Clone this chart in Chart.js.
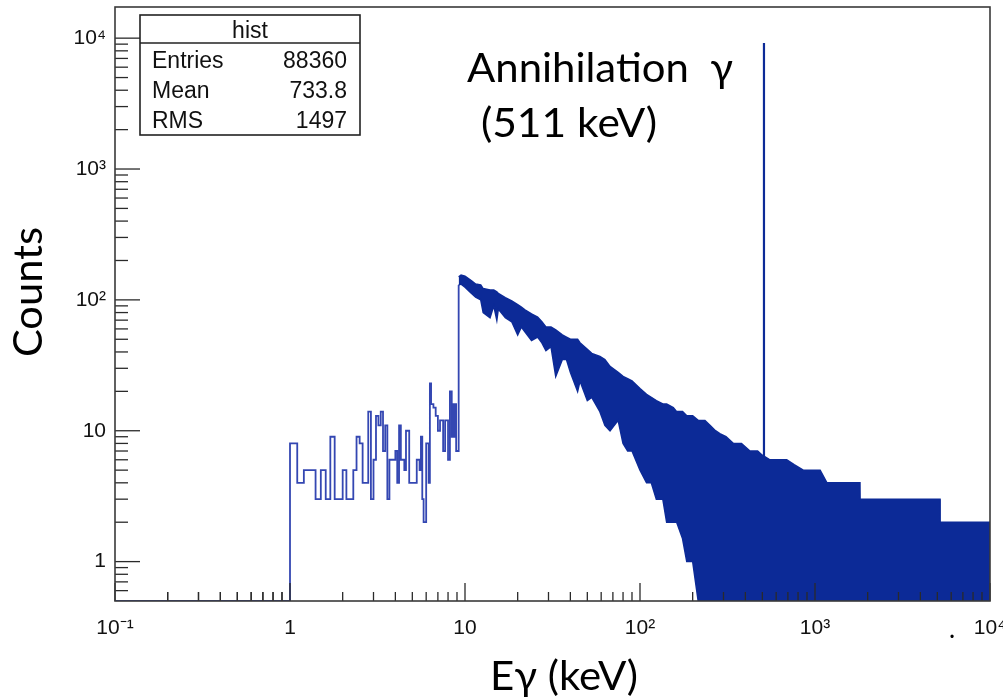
<!DOCTYPE html>
<html><head><meta charset="utf-8">
<script src="https://cdn.jsdelivr.net/npm/chart.js@4.4.0/dist/chart.umd.min.js"></script>
<style>html,body{margin:0;padding:0;background:#fff;overflow:hidden}canvas{display:block}</style>
</head><body>
<canvas id="c" width="1003" height="699"></canvas>
<script>
// ---- data ----
const lowEdges = [1.0,1.1,1.2,1.3,1.4,1.5,1.6,1.7,1.8,1.9,2.0,2.1,2.2,2.3,2.4,2.5,2.6,2.7,2.8,2.9,
  3.0,3.1,3.2,3.3,3.4,3.5,3.6,3.7,3.8,3.9,4.0,4.1,4.2,4.3,4.4,4.5,4.6,4.7,4.8,4.9,
  5.0,5.1,5.2,5.3,5.4,5.5,5.6,5.7,5.8,5.9,6.0,6.1,6.2,6.3,6.4,6.5,6.6,6.7,6.8,6.9,
  7.0,7.1,7.2,7.3,7.4,7.5,7.6,7.7,7.8,7.9,8.0,8.1,8.2,8.3,8.4,8.5,8.6,8.7,8.8,8.9,
  9.0,9.1,9.2];
const lowCounts = [8,4,5,5,3,5,3,9,3,3,5,3,3,5,9,8,4,4,14,3,
  6,13,11,14,7,11,3,6,6,6,7,4,11,6,6,5,10,10,4,4,
  4,4,4,6,6,5,9,3,2,2,8,8,4,23,16,16,15,15,13,13,
  10,10,12,12,12,7,7,12,12,12,6,6,20,20,9,16,9,16,16,7,
  7,7];
const bandEnergy = [9.2,9.5,10.0,10.9,11.5,12.3,12.7,13.9,14.6,15.2,15.5,17.0,18.5,20.0,21.0,22.0,24.0,26.0,27.5,29.0,
  31.0,33.0,36.0,38.0,40.0,44.0,45.4,50,53,59,63,67.4,75,80,85,90,100,109,116,124,
  135,142,155,162,175,185,200,215,235,251,270,286,310,341,380,425,470,500,553,620,
  689,760,857,1000,1070,1170,1585,1807,1810,5180,5190,10000];
const bandUpper = [150,155,152,140,132,130,122,119,119,115,112,104,98,92,88,84,78,74,68,62,
  62,59,54,52,50,50,47,42,39,37,35,31,28,26,25,24,21,19,18,17,
  16,16,15,14,14,13,13,12,12,11,10,9.5,9,8,8,7,7,6.5,6,6,
  6,5.5,5,5,5,4,4,4,3,3,2,2];
const bandLower = [130,132,125,112,105,100,80,73,90,70,85,73,68,54,62,57,49,52,47,41,
  44,26,35,35,28,20,24,17,18,14,11,10,12,8,7,7,5,4,4,3,
  3,2,2,2,1.5,1,1,0.5,0.5,0.5,0.5,0.5,0.5,0.5,0.5,0.5,0.5,0.5,0.5,0.5,
  0.5,0.5,0.5,0.5,0.5,0.5,0.5,0.5,0.5,0.5,0.5,0.5];
const peakEnergy = 511;
const peakCounts = 9200;
const xMajorTicks = [0.1,1,10,100,1000,10000];
const xTickLabels = ['10\u207B\u00B9','1','10','10\u00B2','10\u00B3','10\u2074'];
const yMajorTicks = [1,10,100,1000,10000];
const yTickLabels = ['1','10','10\u00B2','10\u00B3','10\u2074'];
const statsTitle = 'hist';
const statsNames = ['Entries','Mean','RMS'];
const statsValues = ['88360','733.8','1497'];
const xTitle = 'E\u03B3 (keV)';
const yTitle = 'Counts';
const annotLines = ['Annihilation  \u03B3',' (511 keV)'];

const X_MIN = 0.1, X_MAX = 10000, Y_MIN = 0.5, Y_MAX = 17300;
const BLUE = '#0c2a97', LINE = '#3447b2';

// ---- build datasets ----
const lowData = [{x: X_MIN, y: Y_MIN}, {x: lowEdges[0], y: Y_MIN}];
lowCounts.forEach((c, i) => lowData.push({x: lowEdges[i], y: c}));
lowData.push({x: lowEdges[lowEdges.length - 1], y: bandLower[0]});
const upperData = bandEnergy.map((e, i) => ({x: e, y: bandUpper[i]}));
const lowerData = bandEnergy.map((e, i) => ({x: e, y: bandLower[i]}));
const peakData = [{x: peakEnergy, y: Y_MIN}, {x: peakEnergy, y: peakCounts}];

function minorOf(majors, lo, hi) {
  const out = [];
  for (const m of [0.1, ...majors]) for (let k = 2; k <= 9; k++) {
    const v = k * m; if (v > lo && v < hi) out.push(v);
  }
  return out;
}

const decor = {
  id: 'decor',
  beforeDatasetsDraw(chart) {
    const {ctx, scales: {x, y}} = chart;
    ctx.save();
    ctx.beginPath(); ctx.rect(x.left, y.top, x.right - x.left, y.bottom - y.top); ctx.clip();
  },
  afterDatasetsDraw(chart) {
    const {ctx, scales: {x, y}} = chart;
    ctx.restore();
    const a = {left: x.left, right: x.right, top: y.top, bottom: y.bottom};
    ctx.save();
    ctx.strokeStyle = '#2a2a2a'; ctx.lineWidth = 1.3;
    const ln = (x1, y1, x2, y2) => { ctx.beginPath(); ctx.moveTo(x1, y1); ctx.lineTo(x2, y2); ctx.stroke(); };
    for (const v of xMajorTicks) { const p = x.getPixelForValue(v); ln(p, a.bottom, p, a.bottom - 18); }
    for (const v of minorOf(xMajorTicks, X_MIN, X_MAX)) { const p = x.getPixelForValue(v); ln(p, a.bottom, p, a.bottom - 9); }
    for (const v of yMajorTicks) { const p = y.getPixelForValue(v); ln(a.left, p, a.left + 25, p); }
    for (const v of minorOf(yMajorTicks, Y_MIN, Y_MAX)) { const p = y.getPixelForValue(v); ln(a.left, p, a.left + 13, p); }
    ctx.lineWidth = 1.6; ctx.strokeStyle = '#3a3a3a';
    ctx.strokeRect(a.left, a.top, a.right - a.left, a.bottom - a.top);
    // stats box
    const bx = 140, by = 15, bw = 220, bh = 120;
    ctx.fillStyle = '#fff'; ctx.fillRect(bx, by, bw, bh);
    ctx.strokeStyle = '#222'; ctx.lineWidth = 1.6; ctx.strokeRect(bx, by, bw, bh);
    ln(bx, by + 28, bx + bw, by + 28);
    ctx.fillStyle = '#111'; ctx.font = '23px "Liberation Sans", Arial, sans-serif';
    ctx.textBaseline = 'alphabetic';
    ctx.textAlign = 'center'; ctx.fillText(statsTitle, bx + bw / 2, by + 23);
    statsNames.forEach((n, i) => {
      const yy = by + 53 + i * 30;
      ctx.textAlign = 'left'; ctx.fillText(n, bx + 12, yy);
      ctx.textAlign = 'right'; ctx.fillText(statsValues[i], bx + bw - 13, yy);
    });
    const fitText = (t, left, base, width, size) => {
      ctx.font = size + 'px Lato, "Open Sans", sans-serif';
      const w = ctx.measureText(t).width;
      ctx.save(); ctx.translate(left, base); ctx.scale(width / w, 1);
      ctx.textAlign = 'left'; ctx.fillText(t, 0, 0); ctx.restore();
    };
    ctx.fillStyle = '#000';
    fitText(annotLines[0], 467, 82, 266, 41);
    fitText(annotLines[1], 470, 137, 187, 41);
    fitText(xTitle, 490, 690, 148, 41);
    ctx.save(); ctx.translate(42, 357); ctx.rotate(-Math.PI / 2);
    fitText(yTitle, 0, 0, 130, 41);
    ctx.restore();
    ctx.font = '26px Lato, sans-serif'; ctx.textAlign = 'center';
    ctx.fillText('.', 952, 638);
    ctx.restore();
  }
};

new Chart(document.getElementById('c'), {
  type: 'line',
  data: {
    datasets: [
      {data: lowData, borderColor: LINE, borderWidth: 1.8, stepped: 'before', pointRadius: 0, fill: false},
      {data: upperData, borderColor: BLUE, borderWidth: 1.5, pointRadius: 0, fill: false},
      {data: lowerData, borderColor: BLUE, borderWidth: 1.5, pointRadius: 0, fill: '-1', backgroundColor: BLUE},
      {data: peakData, borderColor: BLUE, borderWidth: 2.2, pointRadius: 0, fill: false}
    ]
  },
  options: {
    responsive: false, animation: false, devicePixelRatio: 1,
    layout: {padding: {left: 0, right: 13, top: 7, bottom: 0}},
    plugins: {legend: {display: false}, tooltip: {enabled: false}},
    elements: {line: {tension: 0}},
    scales: {
      x: {
        type: 'logarithmic', min: X_MIN, max: X_MAX,
        grid: {display: false, drawTicks: false}, border: {display: false},
        afterBuildTicks: s => { s.ticks = xMajorTicks.map(v => ({value: v})); },
        afterFit: s => { s.height = 98; s.paddingLeft = 0; s.paddingRight = 0; },
        ticks: {
          padding: 15, maxRotation: 0, autoSkip: false, color: '#111',
          font: {family: '"Liberation Sans", Arial, sans-serif', size: 21},
          callback: (v) => { const i = xMajorTicks.indexOf(v); return i >= 0 ? xTickLabels[i] : ''; }
        }
      },
      y: {
        type: 'logarithmic', min: Y_MIN, max: Y_MAX,
        grid: {display: false, drawTicks: false}, border: {display: false},
        afterBuildTicks: s => { s.ticks = yMajorTicks.map(v => ({value: v})); },
        afterFit: s => { s.width = 115; s.paddingTop = 0; s.paddingBottom = 0; },
        ticks: {
          padding: 9, autoSkip: false, color: '#111',
          font: {family: '"Liberation Sans", Arial, sans-serif', size: 21},
          callback: (v) => { const i = yMajorTicks.indexOf(v); return i >= 0 ? yTickLabels[i] : ''; }
        }
      }
    }
  },
  plugins: [decor]
});
</script>
</body></html>
